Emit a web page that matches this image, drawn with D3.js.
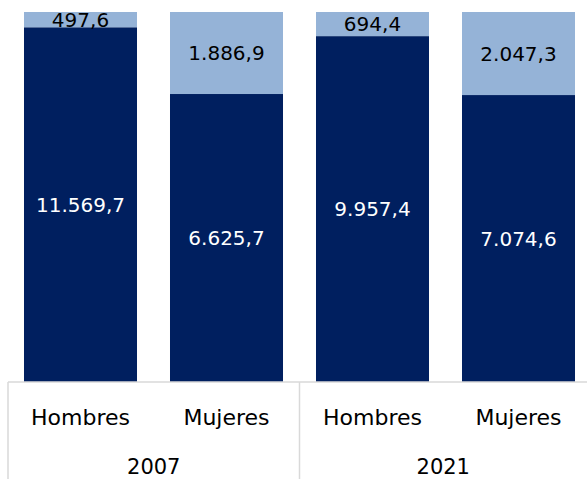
<!DOCTYPE html>
<html>
<head>
<meta charset="utf-8">
<script src="https://cdn.jsdelivr.net/npm/d3@7"></script>
<style>
  html, body { margin: 0; padding: 0; background: #fff; }
  svg text { font-family: 'DejaVu Sans', sans-serif; }
</style>
</head>
<body>
<script>
// bars in order: 2007 H, 2007 M, 2021 H, 2021 M
var categories = ['Hombres', 'Mujeres', 'Hombres', 'Mujeres'];
var years = ['2007', '2021'];
var yearOfBar = ['2007', '2007', '2021', '2021'];
var darkValues = [11569.7, 6625.7, 9957.4, 7074.6];
var lightValues = [497.6, 1886.9, 694.4, 2047.3];

var w = 587;
var h = 479;
var plotLeft = 8, plotRight = 587, plotTop = 12, axisY = 382;

var colors = { dark: '#001f5f', light: '#95b3d7' };

var es = d3.formatLocale({ decimal: ',', thousands: '.', grouping: [3], currency: ['', ' €'] });
var fmt = es.format(',.1f');

var rows = categories.map((c, i) => ({ id: i, cat: c, year: yearOfBar[i], dark: darkValues[i], light: lightValues[i] }));

var series = d3.stack().keys(['dark', 'light']).offset(d3.stackOffsetExpand)(rows);

var x = d3.scaleBand()
  .domain(rows.map(d => d.id))
  .range([7.5, 591.5])
  .paddingInner(0.226)
  .paddingOuter(0.113);

var y = d3.scaleLinear().domain([0, 1]).range([axisY, plotTop]);

var svg = d3.select('body').append('svg')
  .attr('width', w)
  .attr('height', h);

var layers = svg.selectAll('.layer')
  .data(series)
  .enter()
  .append('g')
  .attr('class', 'layer')
  .attr('fill', d => colors[d.key]);

layers.selectAll('rect')
  .data(d => d)
  .enter()
  .append('rect')
  .attr('x', d => x(d.data.id))
  .attr('width', x.bandwidth())
  .attr('y', d => y(d[1]))
  .attr('height', d => y(d[0]) - y(d[1]));

layers.selectAll('text')
  .data(d => d.map(p => ({ p: p, key: d.key })))
  .enter()
  .append('text')
  .attr('x', d => x(d.p.data.id) + x.bandwidth() / 2)
  .attr('y', d => (y(d.p[0]) + y(d.p[1])) / 2)
  .attr('dy', '0.36em')
  .attr('text-anchor', 'middle')
  .attr('font-size', 20)
  .attr('fill', d => d.key === 'dark' ? '#fff' : '#000')
  .text(d => fmt(d.p.data[d.key]));

// category axis with year groups
var grid = '#d9d9d9';
svg.append('line')
  .attr('x1', plotLeft).attr('x2', plotRight)
  .attr('y1', axisY).attr('y2', axisY)
  .attr('stroke', grid).attr('stroke-width', 1.5);

var groupBounds = years.map(yr => {
  var ids = rows.filter(r => r.year === yr).map(r => r.id);
  var step = x.step();
  var x0 = x(ids[0]) - x.paddingInner() * step / 2;
  var x1 = x(ids[ids.length - 1]) + x.bandwidth() + x.paddingInner() * step / 2;
  return { year: yr, x0: ids[0] === 0 ? plotLeft : x0, x1: Math.min(x1, plotRight) };
});

svg.selectAll('.sep')
  .data([plotLeft, groupBounds[0].x1])
  .enter()
  .append('line')
  .attr('class', 'sep')
  .attr('x1', d => d).attr('x2', d => d)
  .attr('y1', axisY).attr('y2', h)
  .attr('stroke', grid).attr('stroke-width', 1.5);

svg.selectAll('.cat')
  .data(rows)
  .enter()
  .append('text')
  .attr('class', 'cat')
  .attr('x', d => x(d.id) + x.bandwidth() / 2)
  .attr('y', 425)
  .attr('text-anchor', 'middle')
  .attr('font-size', 22)
  .attr('fill', '#000')
  .text(d => d.cat);

svg.selectAll('.year')
  .data(groupBounds)
  .enter()
  .append('text')
  .attr('class', 'year')
  .attr('x', d => (d.x0 + d.x1) / 2)
  .attr('y', 474)
  .attr('text-anchor', 'middle')
  .attr('font-size', 21)
  .attr('fill', '#000')
  .text(d => d.year);
</script>
</body>
</html>
